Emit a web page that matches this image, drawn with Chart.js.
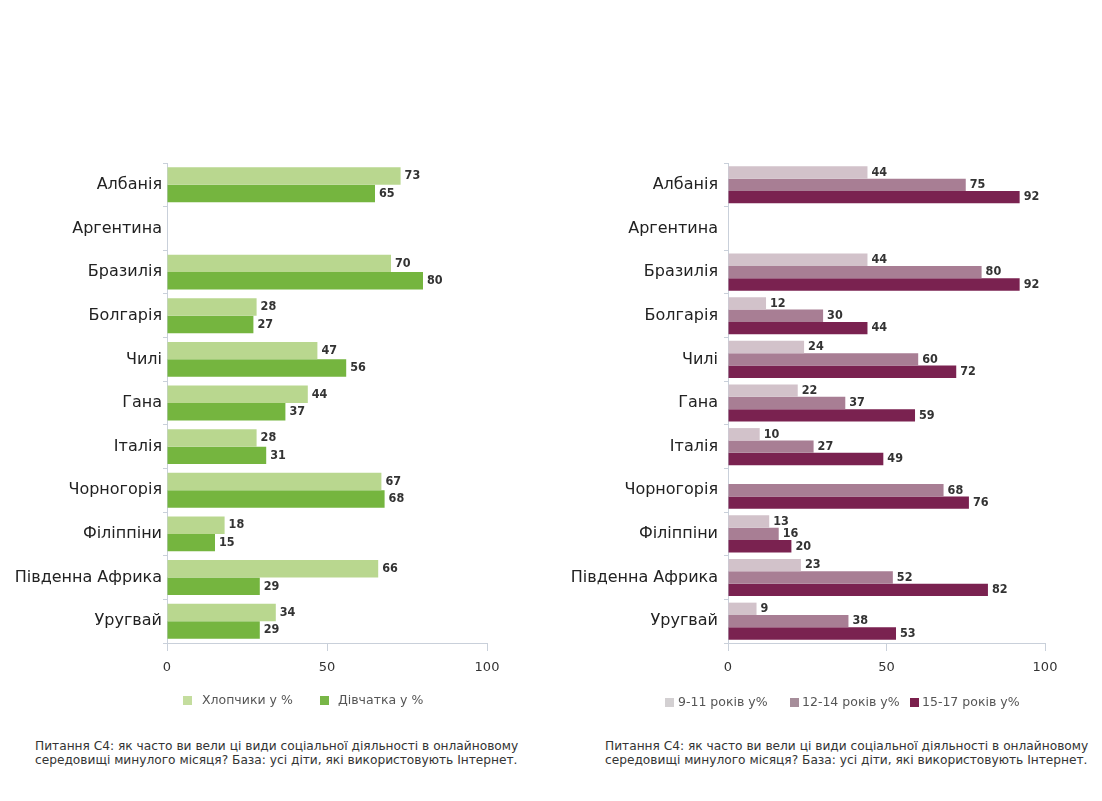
<!DOCTYPE html>
<html>
<head>
<meta charset="utf-8">
<script src="https://cdn.jsdelivr.net/npm/chart.js@4"></script>
<style>
  body { margin: 0; width: 1102px; height: 801px; background: #fff; position: relative; font-family: "DejaVu Sans", sans-serif; overflow: hidden; }
  .box { position: absolute; }
  .sw { position: absolute; width: 9px; height: 9px; }
  .lt { position: absolute; font-size: 12.5px; color: #555; white-space: nowrap; line-height: 14px; }
  .note { position: absolute; font-size: 12.2px; color: #333; line-height: 14px; white-space: nowrap; }
</style>
</head>
<body>
<div class="box" style="left:0;top:140px;width:551px;height:560px"><canvas id="left"></canvas></div>
<div class="box" style="left:551px;top:140px;width:551px;height:560px"><canvas id="right"></canvas></div>

<div class="sw" style="left:183px;top:696px;background:#c4dd9e"></div><div class="lt" style="left:202px;top:693px">Хлопчики у %</div>
<div class="sw" style="left:320px;top:696px;background:#78b647"></div><div class="lt" style="left:338px;top:693px">Дівчатка у %</div>

<div class="sw" style="left:665px;top:698px;background:#d3d0d2"></div><div class="lt" style="left:678px;top:695px">9-11 років у%</div>
<div class="sw" style="left:790px;top:698px;background:#a68d9a"></div><div class="lt" style="left:802px;top:695px">12-14 років у%</div>
<div class="sw" style="left:910px;top:698px;background:#7a1f4c"></div><div class="lt" style="left:922px;top:695px">15-17 років у%</div>

<div class="note" style="left:35px;top:739px">Питання С4: як часто ви вели ці види соціальної діяльності в онлайновому<br>середовищі минулого місяця? База: усі діти, які використовують Інтернет.</div>
<div class="note" style="left:605px;top:739px">Питання С4: як часто ви вели ці види соціальної діяльності в онлайновому<br>середовищі минулого місяця? База: усі діти, які використовують Інтернет.</div>

<script>
const countries = ['Албанія', 'Аргентина', 'Бразилія', 'Болгарія', 'Чилі', 'Гана', 'Італія', 'Чорногорія', 'Філіппіни', 'Південна Африка', 'Уругвай']
const xTicks = [0, 50, 100]

const boys = [73, null, 70, 28, 47, 44, 28, 67, 18, 66, 34]
const girls = [65, null, 80, 27, 56, 37, 31, 68, 15, 29, 29]

const age9to11 = [44, null, 44, 12, 24, 22, 10, null, 13, 23, 9]
const age12to14 = [75, null, 80, 30, 60, 37, 27, 68, 16, 52, 38]
const age15to17 = [92, null, 92, 44, 72, 59, 49, 76, 20, 82, 53]

// numbers at the end of each bar
const valueLabels = {
  id: 'valueLabels',
  afterDatasetsDraw(chart) {
    const ctx = chart.ctx
    ctx.save()
    ctx.font = 'bold 12.5px "DejaVu Sans Condensed"'
    ctx.fillStyle = '#333'
    ctx.textBaseline = 'middle'
    chart.data.datasets.forEach((ds, i) => {
      chart.getDatasetMeta(i).data.forEach((bar, j) => {
        if (ds.data[j] == null) return
        ctx.fillText(ds.data[j], bar.x + 4, bar.y)
      })
    })
    ctx.restore()
  }
}

function makeChart(id, datasets, padRight, yWidth, labelPad, catPct) {
  new Chart(document.getElementById(id), {
    type: 'bar',
    data: { labels: countries, datasets: datasets },
    plugins: [valueLabels],
    options: {
      indexAxis: 'y',
      responsive: true,
      maintainAspectRatio: false,
      animation: false,
      layout: { padding: { top: 23, right: padRight, left: 0, bottom: 0 } },
      plugins: { legend: { display: false }, tooltip: { enabled: false } },
      datasets: { bar: { categoryPercentage: catPct, barPercentage: 1 } },
      scales: {
        y: {
          afterFit: s => { s.width = yWidth },
          border: { color: '#c9d0da' },
          grid: { drawOnChartArea: false, tickLength: 4, color: '#c9d0da' },
          ticks: { font: { family: 'DejaVu Sans', size: 16 }, color: '#222', padding: labelPad }
        },
        x: {
          min: 0, max: 100,
          afterFit: s => { s.height = 57 },
          afterBuildTicks: s => { s.ticks = xTicks.map(v => ({ value: v })) },
          border: { color: '#c9d0da' },
          grid: { drawOnChartArea: false, tickLength: 8, color: '#c9d0da' },
          ticks: { font: { family: 'DejaVu Sans', size: 13 }, color: '#333', padding: 9 }
        }
      }
    }
  })
}

makeChart('left', [
  { label: 'Хлопчики у %', data: boys, backgroundColor: '#b9d78f' },
  { label: 'Дівчатка у %', data: girls, backgroundColor: '#75b53f' }
], 64, 167, 1, 0.8)

makeChart('right', [
  { label: '9-11 років у%', data: age9to11, backgroundColor: '#d2c2ca' },
  { label: '12-14 років у%', data: age12to14, backgroundColor: '#a87e94' },
  { label: '15-17 років у%', data: age15to17, backgroundColor: '#7a2250' }
], 57, 177, 6, 0.85)
</script>
</body>
</html>
